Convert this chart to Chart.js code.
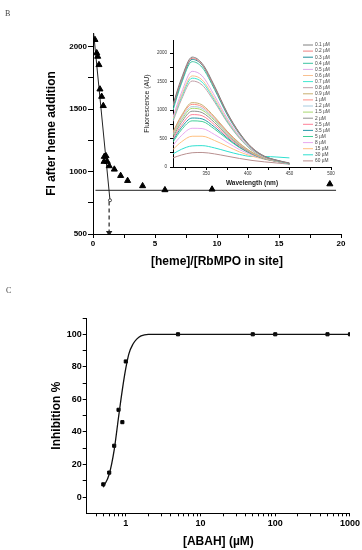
<!DOCTYPE html>
<html>
<head>
<meta charset="utf-8">
<script src="https://cdn.jsdelivr.net/npm/chart.js@4.4.0/dist/chart.umd.min.js"></script>
<style>
    html, body { margin: 0; padding: 0; background: #fff; }
    #page { position: relative; width: 362px; height: 550px; overflow: hidden; }
    canvas { position: absolute; }
    .panel-label { position: absolute; font-family: 'Liberation Serif', 'DejaVu Serif', serif; font-size: 8px; color: #444;
                   -webkit-font-smoothing: antialiased; transform: translateZ(0); }
</style>
</head>
<body>
<div id="page">
    <div class="panel-label" style="left:5px; top:9px;">B</div>
    <div class="panel-label" style="left:6px; top:286px;">C</div>
    <canvas id="chartB" width="362" height="280" style="left:0; top:0;"></canvas>
    <canvas id="chartInset" width="210" height="160" style="left:135px; top:30px;"></canvas>
    <canvas id="chartC" width="362" height="260" style="left:0; top:290px;"></canvas>
</div>
<script>
// --- PANEL B: titration points ---
const ratioX = [0.16, 0.3, 0.38, 0.48, 0.56, 0.7, 0.83, 0.89, 0.91, 1.05, 1.15, 1.31, 1.72, 2.23, 2.79, 4.0, 5.8, 9.6, 19.1];
const fiY    = [2056, 1950, 1922, 1855, 1660, 1601, 1527, 1080, 1120, 1125, 1080, 1045, 1018, 967, 927, 885, 853, 858, 900];
const fitSteepX = [0.05, 1.37];
const fitSteepY = [2110, 770];
const plateauX = [0.2, 19.6];
const plateauY = [850, 850];
const arrowX = [1.3, 1.3];
const arrowY = [760, 510];
const bXTicks = [0, 2.5, 5, 7.5, 10, 12.5, 15, 17.5, 20];
const bYTicks = [500, 750, 1000, 1250, 1500, 1750, 2000];

// --- PANEL B inset: emission spectra ---
const wavelengths = [310, 320, 333, 345, 360, 375, 390, 405, 420, 435, 450];
const concLabels = ['0.1 µM', '0.2 µM', '0.3 µM', '0.4 µM', '0.5 µM', '0.6 µM', '0.7 µM', '0.8 µM', '0.9 µM', '1 µM',
    '1.2 µM', '1.5 µM', '2 µM', '2.5 µM', '3.5 µM', '5 µM', '8 µM', '15 µM', '30 µM', '60 µM'];
const concColors = ['#808080', '#f08080', '#1f8f9a', '#3cc4a0', '#e0a8e8', '#f8c090', '#40e8d0', '#c0a0a8', '#c8b070', '#ff9088',
    '#a8cce0', '#a8d870', '#909090', '#ff8098', '#2898a8', '#40d098', '#e8a8f0', '#ffc080', '#30e0d0', '#b89090'];
const spectra = [
    [1100, 1550, 1930, 1820, 1420, 960, 600, 340, 190, 120, 70],
    [1080, 1520, 1910, 1800, 1400, 950, 590, 335, 185, 115, 65],
    [1050, 1500, 1890, 1790, 1390, 940, 590, 330, 185, 115, 65],
    [1000, 1460, 1850, 1750, 1360, 920, 575, 325, 180, 110, 60],
    [880, 1300, 1680, 1600, 1250, 860, 540, 310, 175, 110, 60],
    [850, 1250, 1600, 1530, 1200, 830, 525, 300, 170, 105, 60],
    [830, 1220, 1560, 1490, 1170, 810, 515, 295, 170, 105, 55],
    [800, 1180, 1510, 1440, 1140, 790, 505, 290, 165, 100, 55],
    [620, 900, 1130, 1090, 880, 630, 420, 260, 160, 110, 60],
    [600, 880, 1100, 1060, 860, 615, 410, 255, 155, 105, 60],
    [580, 850, 1060, 1030, 835, 600, 400, 250, 155, 105, 60],
    [560, 820, 1030, 1000, 815, 585, 390, 245, 150, 100, 55],
    [530, 780, 980, 955, 780, 565, 380, 240, 150, 100, 55],
    [500, 730, 920, 900, 740, 540, 365, 235, 150, 100, 55],
    [470, 690, 860, 845, 700, 515, 350, 230, 145, 100, 55],
    [440, 650, 810, 800, 665, 495, 340, 225, 145, 100, 55],
    [380, 550, 680, 675, 570, 435, 305, 210, 140, 95, 50],
    [310, 440, 540, 540, 465, 365, 265, 190, 135, 95, 55],
    [230, 310, 370, 375, 335, 275, 220, 185, 185, 175, 160],
    [160, 210, 250, 255, 230, 190, 150, 115, 90, 70, 50]
];
const insetXTicks = [325, 350, 375, 400, 425, 450, 475, 500];
const insetYTicks = [0, 250, 500, 750, 1000, 1250, 1500, 1750, 2000];

// --- PANEL C: inhibition ---
const abahConc = [0.5, 0.6, 0.7, 0.8, 0.9, 1.0, 5, 50, 100, 500, 1000];
const inhibition = [7.8, 15, 31.5, 53.6, 46, 83.3, 100, 100, 100, 100, 100];
const fitConc = [0.5, 0.6, 0.7, 0.8, 0.9, 1.0, 1.1, 1.25, 1.4, 1.6, 2, 3, 5, 10, 100, 1000];
const fitInhib = [6, 14, 29, 49, 66, 79, 88, 94, 97, 99, 100, 100, 100, 100, 100, 100];
const cXTicks = [0.4, 0.5, 0.6, 0.7, 0.8, 0.9, 1, 2, 3, 4, 5, 6, 7, 8, 9, 10, 20, 30, 40, 50, 60, 70, 80, 90,
    100, 200, 300, 400, 500, 600, 700, 800, 900, 1000];
const cYTicks = [0, 10, 20, 30, 40, 50, 60, 70, 80, 90, 100, 110];

Chart.defaults.font.family = "'Liberation Sans', Arial, sans-serif";
Chart.defaults.color = '#000';
Chart.defaults.animation = false;

const pts = (xs, ys) => xs.map((x, i) => ({ x, y: ys[i] }));
const fixTicks = values => scale => { scale.ticks = values.map(v => ({ value: v })); };

function axis(extra) {
    return Object.assign({
        border: { display: true, color: '#000', width: 1 },
        grid: { drawOnChartArea: false, drawTicks: true, tickLength: 4, tickColor: '#000' }
    }, extra);
}

// --- MAIN TITRATION CHART ---
new Chart(document.getElementById('chartB'), {
    type: 'scatter',
    data: {
        datasets: [
            { data: pts(ratioX, fiY), pointStyle: 'triangle', pointRadius: 3.5, backgroundColor: '#000', borderColor: '#000' },
            { data: pts(fitSteepX, fitSteepY), showLine: true, borderColor: '#222', borderWidth: 1,
              pointRadius: [0, 1.5], backgroundColor: '#fff', pointBorderColor: '#222', pointBorderWidth: 0.8 },
            { data: pts(plateauX, plateauY), showLine: true, borderColor: '#222', borderWidth: 1, pointRadius: 0 },
            { data: pts(arrowX, arrowY), showLine: true, borderColor: '#222', borderWidth: 1.2, borderDash: [4, 3],
              pointRadius: [0, 2.5], pointStyle: 'triangle', pointRotation: 180, backgroundColor: '#222', pointBorderColor: '#222' }
        ]
    },
    options: {
        responsive: false,
        layout: { padding: { left: 0, right: 21, top: 33, bottom: 0 } },
        plugins: { legend: { display: false }, tooltip: { enabled: false } },
        scales: {
            x: axis({
                min: 0, max: 20,
                afterBuildTicks: fixTicks(bXTicks),
                afterFit: s => { s.height = 46; },
                grid: { drawOnChartArea: false, tickLength: 4, tickColor: '#000' },
                ticks: { font: { size: 8, weight: 'bold' }, padding: 1, maxRotation: 0, autoSkip: false,
                         callback: v => (v % 5 === 0 ? v : '') },
                title: { display: true, text: '[heme]/[RbMPO in site]', font: { size: 12, weight: 'bold' },
                         padding: { top: 0, bottom: 10.8 } }
            }),
            y: axis({
                min: 500, max: 2110,
                afterBuildTicks: fixTicks(bYTicks),
                afterFit: s => { s.width = 93; },
                grid: { drawOnChartArea: false, tickLength: 5, tickColor: '#000' },
                ticks: { font: { size: 8, weight: 'bold' }, padding: 1, autoSkip: false,
                         callback: v => (v % 500 === 0 ? v : '') },
                title: { display: true, text: 'FI after heme addition', font: { size: 12, weight: 'bold' },
                         padding: { top: 44.8, bottom: 0 } }
            })
        }
    }
});

// --- INSET SPECTRA ---
const insetLegend = {
    id: 'insetLegend',
    afterDraw(chart) {
        const { ctx, chartArea } = chart;
        const x0 = chartArea.right - 28, y0 = chartArea.top + 5;
        ctx.save();
        ctx.font = "4.8px 'Liberation Sans', Arial, sans-serif";
        ctx.textBaseline = 'middle';
        chart.data.datasets.forEach((ds, i) => {
            const y = y0 + i * 6.1;
            ctx.strokeStyle = ds.borderColor;
            ctx.lineWidth = 1;
            ctx.beginPath(); ctx.moveTo(x0, y); ctx.lineTo(x0 + 10, y); ctx.stroke();
            ctx.fillStyle = '#444';
            ctx.fillText(ds.label, x0 + 12, y);
        });
        ctx.restore();
    }
};

new Chart(document.getElementById('chartInset'), {
    type: 'line',
    data: {
        datasets: spectra.map((row, i) => ({
            label: concLabels[i],
            data: pts(wavelengths, row),
            borderColor: concColors[i],
            borderWidth: 1,
            pointRadius: 0,
            cubicInterpolationMode: 'monotone'
        }))
    },
    options: {
        responsive: false,
        layout: { padding: { left: 0, right: 14, top: 10, bottom: 0 } },
        plugins: { legend: { display: false }, tooltip: { enabled: false } },
        scales: {
            x: axis({
                type: 'linear', min: 310, max: 500,
                afterBuildTicks: fixTicks(insetXTicks),
                afterFit: s => { s.height = 23; },
                grid: { drawOnChartArea: false, tickLength: 3, tickColor: '#000' },
                ticks: { font: { size: 4.5 }, padding: 1, maxRotation: 0, autoSkip: false, color: '#333',
                         callback: v => (v % 50 === 0 ? v : '') },
                title: { display: true, text: 'Wavelength (nm)', font: { size: 6.5, weight: 'bold' }, color: '#222',
                         padding: { top: 0, bottom: 3.1 } }
            }),
            y: axis({
                min: 0, max: 2230,
                afterBuildTicks: fixTicks(insetYTicks),
                afterFit: s => { s.width = 38; },
                grid: { drawOnChartArea: false, tickLength: 3, tickColor: '#000' },
                ticks: { font: { size: 4.5 }, padding: 3, autoSkip: false, color: '#333',
                         callback: v => (v % 500 === 0 ? v : '') },
                title: { display: true, text: 'Fluorescence (AU)', font: { size: 7 }, color: '#222',
                         padding: { top: 7.8, bottom: 0 } }
            })
        }
    },
    plugins: [insetLegend]
});

// --- PANEL C: DOSE RESPONSE ---
new Chart(document.getElementById('chartC'), {
    type: 'scatter',
    data: {
        datasets: [
            { data: pts(fitConc, fitInhib), showLine: true, borderColor: '#111', borderWidth: 1.3, pointRadius: 0,
              cubicInterpolationMode: 'monotone' },
            { data: pts(abahConc, inhibition), pointStyle: 'rect', pointRadius: 2.2, backgroundColor: '#000', borderColor: '#000' }
        ]
    },
    options: {
        responsive: false,
        layout: { padding: { left: 0, right: 11, top: 28, bottom: 0 } },
        plugins: { legend: { display: false }, tooltip: { enabled: false } },
        scales: {
            x: axis({
                type: 'logarithmic', min: 0.3, max: 1000,
                afterBuildTicks: fixTicks(cXTicks),
                afterFit: s => { s.height = 36.7; },
                grid: { drawOnChartArea: false, tickLength: 3, tickColor: '#000' },
                ticks: { font: { size: 9, weight: 'bold' }, padding: 2, maxRotation: 0, autoSkip: false,
                         callback: v => ([1, 10, 100, 1000].includes(v) ? v : '') },
                title: { display: true, text: '[ABAH] (µM)', font: { size: 12, weight: 'bold' },
                         padding: { top: 0, bottom: 1 } }
            }),
            y: axis({
                min: -10, max: 110,
                afterBuildTicks: fixTicks(cYTicks),
                afterFit: s => { s.width = 86.7; },
                grid: { drawOnChartArea: false, tickLength: 4, tickColor: '#000' },
                ticks: { font: { size: 9, weight: 'bold' }, padding: 1, autoSkip: false,
                         callback: v => (v % 20 === 0 ? v : '') },
                title: { display: true, text: 'Inhibition %', font: { size: 12, weight: 'bold' },
                         padding: { top: 49.5, bottom: 0 } }
            })
        }
    }
});
</script>
</body>
</html>
